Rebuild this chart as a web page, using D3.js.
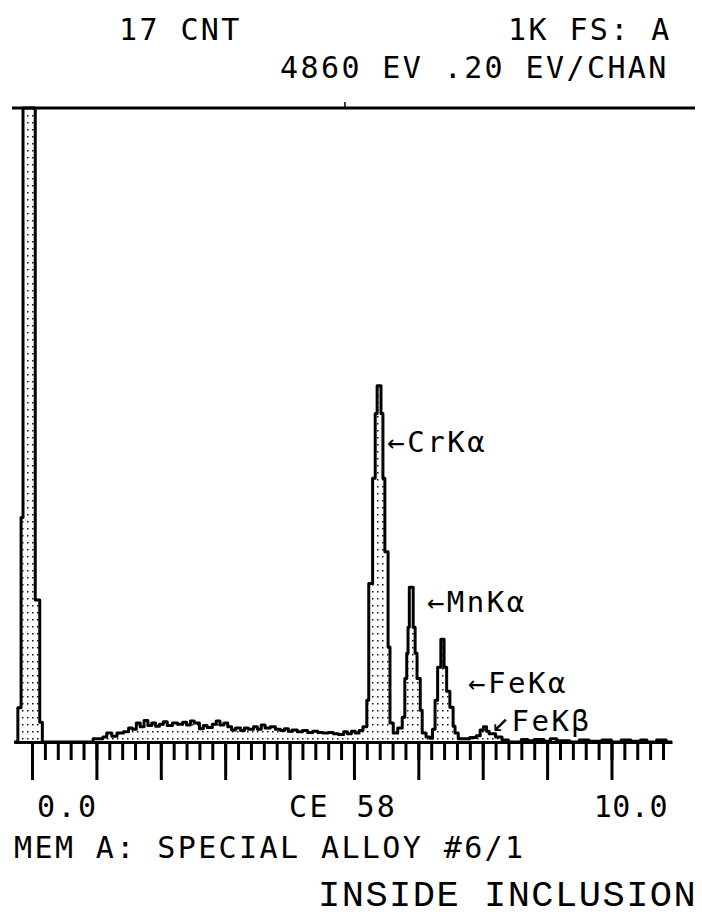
<!DOCTYPE html>
<html>
<head>
<meta charset="utf-8">
<script src="https://cdn.jsdelivr.net/npm/d3@7"></script>
<style>
  body { margin: 0; background: #fff; }
  text { fill: #000; }
</style>
</head>
<body>
<script>
// spectrum: step start energy (keV) and counts held until next step
const energyKeV = [
  -0.28, -0.22, -0.17, -0.14, 0.05, 0.12, 0.16,
  0.95, 1.10, 1.16, 1.24, 1.32, 1.42, 1.50, 1.56, 1.62, 1.68, 1.74, 1.80, 1.86, 1.92, 1.98,
  2.04, 2.10, 2.18, 2.26, 2.34, 2.40, 2.46, 2.52, 2.60, 2.66, 2.72, 2.80, 2.86, 2.92, 2.98,
  3.04, 3.10, 3.16, 3.24, 3.30, 3.36, 3.44, 3.50, 3.56, 3.62, 3.70, 3.78, 3.86, 3.92, 3.98,
  4.04, 4.12, 4.20, 4.28, 4.36, 4.44, 4.52, 4.60, 4.68, 4.76, 4.84, 4.90, 4.96, 5.02, 5.08, 5.14,
  5.20, 5.23, 5.29, 5.33, 5.36, 5.42, 5.45, 5.48, 5.53, 5.56, 5.61, 5.68,
  5.75, 5.79, 5.82, 5.84, 5.86, 5.92, 5.95, 5.98, 6.03, 6.06, 6.12, 6.18,
  6.22, 6.26, 6.30, 6.35, 6.40, 6.44, 6.49, 6.54, 6.57, 6.62, 6.80, 6.90, 6.96, 7.01, 7.06, 7.10, 7.20, 7.30,
  7.40, 7.60, 7.70, 7.80, 7.95, 8.05, 8.15, 8.35, 8.50, 8.65, 8.85, 9.00, 9.15, 9.30, 9.45, 9.55, 9.70, 9.85, 9.94
];
const counts = [
  0, 54, 354, 1000, 224, 31, 0,
  5, 8, 14, 9, 14, 16, 22, 20, 30, 24, 34, 26, 30, 25, 28,
  32, 26, 30, 28, 31, 27, 33, 30, 21, 26, 23, 28, 33, 27, 30,
  24, 19, 22, 18, 22, 20, 24, 20, 27, 22, 24, 20, 18, 21, 17,
  19, 16, 18, 15, 17, 15, 14, 15, 13, 12, 16, 13, 17, 14, 18, 24,
  66, 250, 416, 518, 562, 518, 416, 300, 150, 30, 14, 22,
  39, 100, 140, 181, 244, 181, 140, 100, 50, 14, 8, 6,
  20, 66, 118, 162, 118, 80, 55, 25, 14, 5, 7, 10, 19, 24, 17, 13, 8, 3,
  0, 4, 2, 4, 1, 5, 2, 0, 3, 1, 3, 0, 3, 1, 3, 0, 3, 0, 0
];

const peakNames = ["\u2190CrK\u03b1", "\u2190MnK\u03b1", "\u2190FeK\u03b1", "\u2199FeK\u03b2"];
const peakEnergies = [5.41, 5.90, 6.40, 7.06];

const axisLabels = ["0.0", "CE 58", "10.0"];

const headerLeft = "17 CNT";
const headerRight = "1K FS: A";
const headerLine2 = "4860 EV .20 EV/CHAN";
const cursorKeV = 4.86;
const memoLine = "MEM A: SPECIAL ALLOY #6/1";
const noteLine = "INSIDE INCLUSION";

const fullScale = 1000;
const minorStep = 0.2;

const W = 702, H = 920;
const mono = "'DejaVu Sans Mono', monospace";
const svg = d3.select("body").append("svg").attr("width", W).attr("height", H);

const x = d3.scaleLinear().domain([d3.min(energyKeV), d3.max(energyKeV)]).range([14, 672]);
const y = d3.scaleLinear().domain([0, fullScale]).range([742, 108]);

// stipple fill
const defs = svg.append("defs");
const pat = defs.append("pattern").attr("id", "dots")
  .attr("width", 5).attr("height", 7).attr("patternUnits", "userSpaceOnUse");
pat.append("rect").attr("x", 2).attr("y", 3).attr("width", 1.5).attr("height", 1.5).attr("fill", "#111");

const pts = energyKeV.map((e, i) => [e, counts[i]]);

const area = d3.area().curve(d3.curveStepAfter)
  .x(d => x(d[0])).y0(y(0)).y1(d => y(Math.min(d[1], fullScale)));
const line = d3.line().curve(d3.curveStepAfter)
  .x(d => x(d[0])).y(d => y(Math.min(d[1], fullScale)));

svg.append("path").datum(pts).attr("d", area).attr("fill", "url(#dots)");
svg.append("path").datum(pts).attr("d", line)
  .attr("fill", "none").attr("stroke", "#000").attr("stroke-width", 3)
  .attr("stroke-linejoin", "round");

// full-scale line at top with cursor mark
svg.append("line").attr("x1", 12).attr("x2", 695).attr("y1", y(fullScale)).attr("y2", y(fullScale))
  .attr("stroke", "#000").attr("stroke-width", 3);
svg.append("line").attr("x1", x(cursorKeV)).attr("x2", x(cursorKeV))
  .attr("y1", y(fullScale)).attr("y2", y(fullScale) - 6)
  .attr("stroke", "#000").attr("stroke-width", 1.5);

// energy axis
const minorTicks = d3.range(0, 9.9, minorStep);
const majorTicks = d3.range(0, 10, 1);
const gx = svg.append("g").attr("transform", `translate(0,${y(0)})`);
gx.call(d3.axisBottom(x).tickValues(minorTicks).tickSize(18).tickSizeOuter(0).tickFormat(""));
gx.append("g").call(d3.axisBottom(x).tickValues(majorTicks).tickSize(38).tickSizeOuter(0).tickFormat(""))
  .select(".domain").remove();
gx.selectAll("line").style("stroke", "#000").style("stroke-width", "3px");
gx.select(".domain").style("stroke", "#000").style("stroke-width", "3px");

// peak labels
const labelDx = [7, 15, 24, 5];
const labelY = [452, 612, 693, 731];
svg.selectAll(".peak").data(peakNames).join("text")
  .attr("class", "peak")
  .attr("x", (d, i) => x(peakEnergies[i]) + labelDx[i])
  .attr("y", (d, i) => labelY[i])
  .style("font-family", mono)
  .attr("font-size", 29).attr("letter-spacing", 2.5)
  .text(d => d);

function txt(s, xp, yp) {
  return svg.append("text").attr("x", xp).attr("y", yp)
    .style("font-family", mono)
    .attr("font-size", 30).attr("letter-spacing", 2.4)
    .text(s);
}
txt(headerLeft, 119, 40);
txt(headerRight, 508, 40);
txt(headerLine2, 280, 78);

// axis labels under the energy scale
txt(axisLabels[0], 37, 817);
const ce = axisLabels[1].split(" ");
const ceText = txt("", 289, 817);
ceText.append("tspan").text(ce[0]);
ceText.append("tspan").attr("dx", 6).text(" " + ce[1]);
txt(axisLabels[2], 668, 817).attr("text-anchor", "end").attr("letter-spacing", 0.5);
txt(memoLine, 14, 858);

svg.append("text").attr("x", 318).attr("y", 906)
  .style("font-family", "'Liberation Mono', monospace")
  .attr("font-size", 37).attr("letter-spacing", 1.5)
  .text(noteLine);
</script>
</body>
</html>
